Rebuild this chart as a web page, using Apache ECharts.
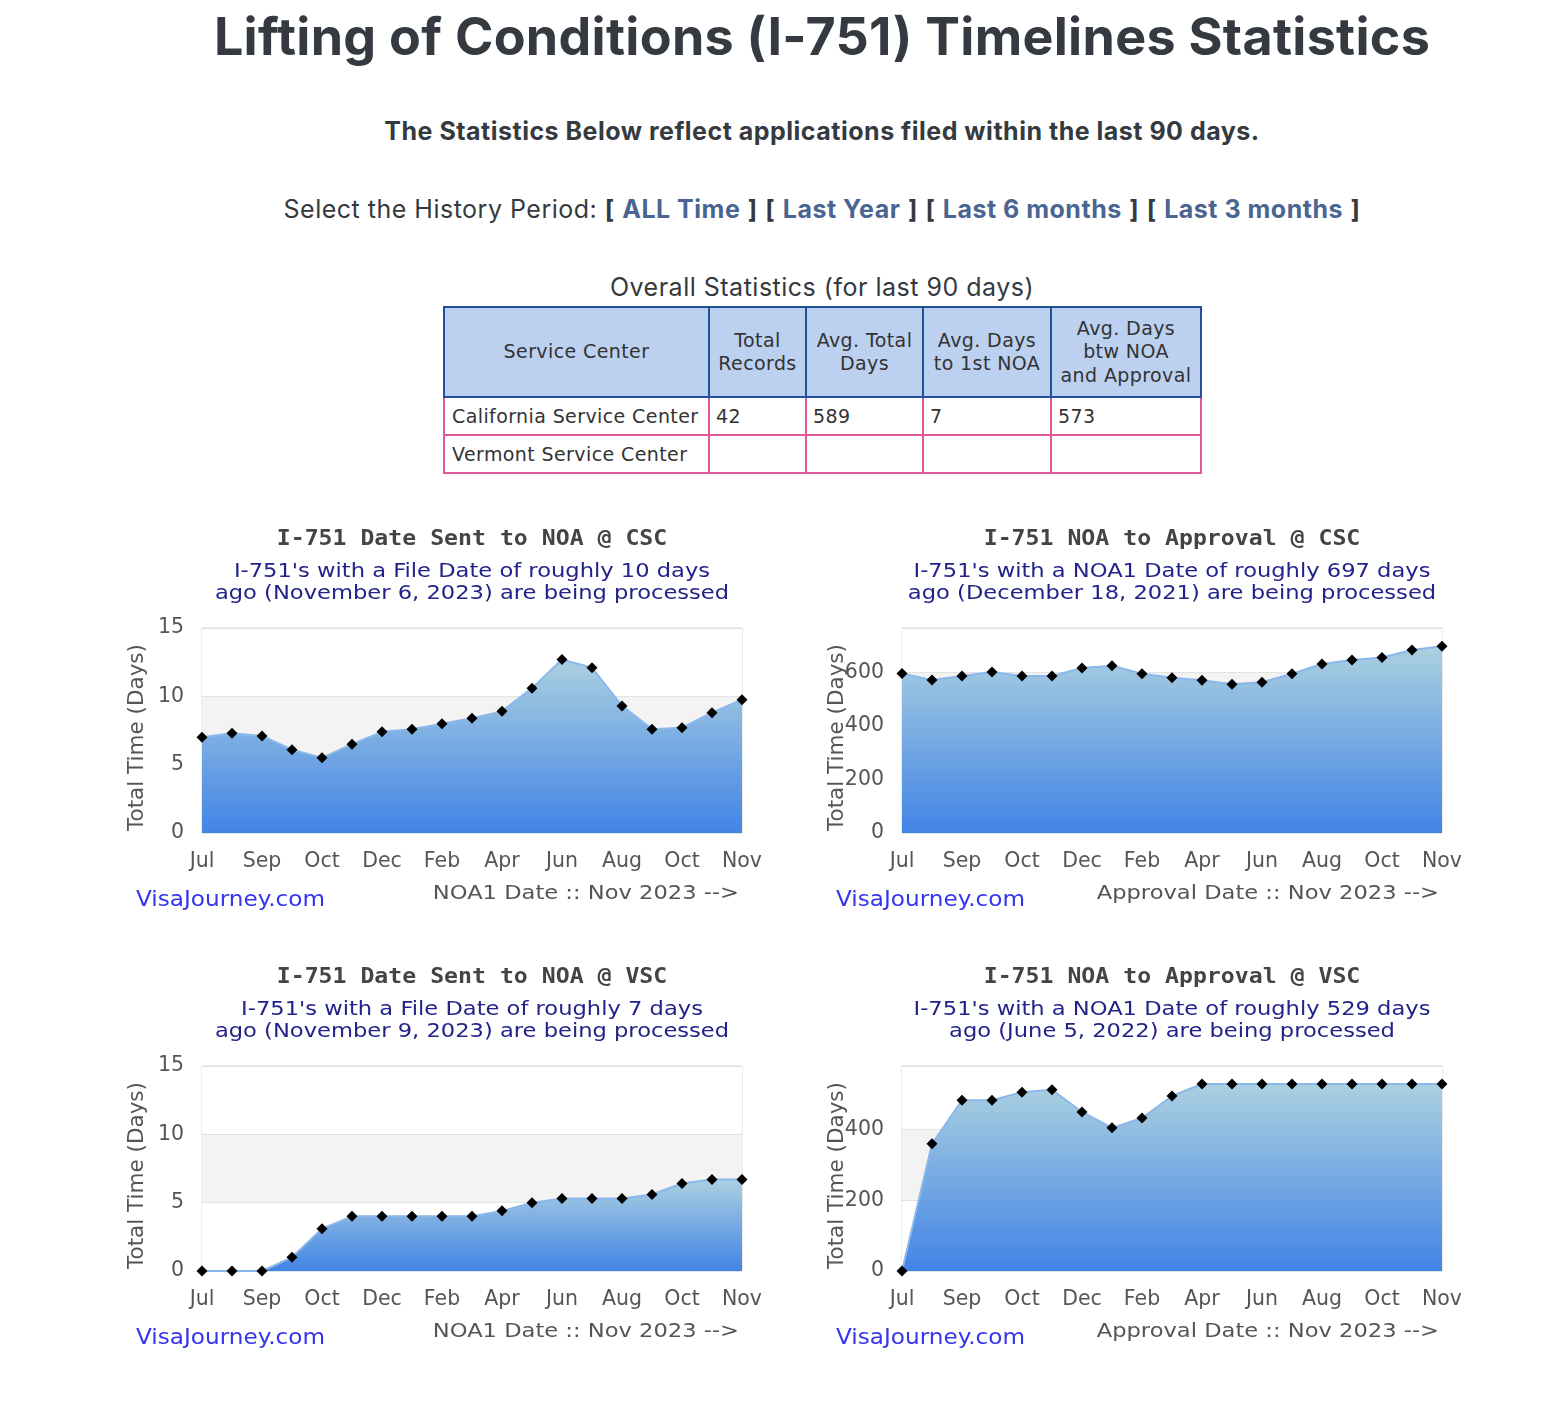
<!DOCTYPE html>
<html>
<head>
<meta charset="utf-8">
<title>Lifting of Conditions (I-751) Timelines Statistics</title>
<script src="https://cdn.jsdelivr.net/npm/echarts@6/dist/echarts.min.js"></script>
<style>
  html, body { margin:0; padding:0; background:#fff; overflow:hidden; }
  body { width:1566px; height:1416px; position:relative; font-family: Inter, "Noto Sans", sans-serif; color:#343a40; }
  .c { position:absolute; left:122px; width:1400px; text-align:center; white-space:nowrap; }
  #pageTitle { top:7px; font-size:52px; line-height:60px; font-weight:700; letter-spacing:0.3px; }
  #sub { top:116px; font-size:25px; line-height:30px; font-weight:700; letter-spacing:0.5px; }
  #period { top:194px; font-size:25px; line-height:30px; letter-spacing:0.5px; }
  #period b { font-weight:700; }
  #period a { color:#4a6592; font-weight:700; text-decoration:none; }
  #caption { top:272px; font-size:25px; line-height:30px; letter-spacing:0.5px; }
  table { position:absolute; left:443px; top:306px; width:757px; table-layout:fixed; border-collapse:collapse; font-family:"DejaVu Sans", Verdana, sans-serif; font-size:19px; letter-spacing:0.4px; color:#333; }
  th { background:#bcd0f0; border:2px solid #24509a; font-weight:normal; text-align:center; line-height:23.5px; padding:0; height:88px; white-space:nowrap; }
  td { border:2px solid #e2589a; text-align:left; padding:0 6px; height:36px; line-height:23px; white-space:nowrap; }
  .chart { position:absolute; width:700px; height:430px; }
</style>
</head>
<body>
<div class="c" id="pageTitle">Lifting of Conditions (I-751) Timelines Statistics</div>
<div class="c" id="sub">The Statistics Below reflect applications filed within the last 90 days.</div>
<div class="c" id="period">Select the History Period: <b>[</b> <a href="#">ALL Time</a> <b>]</b> <b>[</b> <a href="#">Last Year</a> <b>]</b> <b>[</b> <a href="#">Last 6 months</a> <b>]</b> <b>[</b> <a href="#">Last 3 months</a> <b>]</b></div>
<div class="c" id="caption">Overall Statistics (for last 90 days)</div>
<table>
  <colgroup>
    <col style="width:265px"><col style="width:97px"><col style="width:117px"><col style="width:128px"><col style="width:150px">
  </colgroup>
  <tr>
    <th>Service Center</th>
    <th>Total<br>Records</th>
    <th>Avg. Total<br>Days</th>
    <th>Avg. Days<br>to 1st NOA</th>
    <th>Avg. Days<br>btw NOA<br>and Approval</th>
  </tr>
  <tr><td style="padding-left:7px">California Service Center</td><td>42</td><td>589</td><td>7</td><td>573</td></tr>
  <tr><td style="padding-left:7px">Vermont Service Center</td><td></td><td></td><td></td><td></td></tr>
</table>

<div class="chart" id="c1" style="left:122px; top:520px;"></div>
<div class="chart" id="c2" style="left:822px; top:520px;"></div>
<div class="chart" id="c3" style="left:122px; top:958px;"></div>
<div class="chart" id="c4" style="left:822px; top:958px;"></div>

<script>
// ---- data ----
var xLabels = ['Jul','','Sep','','Oct','','Dec','','Feb','','Apr','','Jun','','Aug','','Oct','','Nov'];
var cscSentToNoa = [7.0, 7.3, 7.1, 6.1, 5.5, 6.5, 7.4, 7.6, 8.0, 8.4, 8.9, 10.6, 12.7, 12.1, 9.3, 7.6, 7.7, 8.8, 9.75];
var cscNoaToApproval = [595, 571, 586, 601, 586, 586, 616, 624, 594, 579, 570, 555, 563, 594, 631, 646, 655, 683, 697];
var vscSentToNoa = [0, 0, 0, 1.0, 3.1, 4, 4, 4, 4, 4, 4.4, 5.0, 5.3, 5.3, 5.3, 5.6, 6.4, 6.7, 6.7];
var vscNoaToApproval = [0, 360, 483, 483, 506, 513, 450, 405, 433, 495, 529, 529, 529, 529, 529, 529, 529, 529, 529];

var chartTitles = ['I-751 Date Sent to NOA @ CSC', 'I-751 NOA to Approval @ CSC', 'I-751 Date Sent to NOA @ VSC', 'I-751 NOA to Approval @ VSC'];
var chartSubtitles = [
  ["I-751's with a File Date of roughly 10 days", "ago (November 6, 2023) are being processed"],
  ["I-751's with a NOA1 Date of roughly 697 days", "ago (December 18, 2021) are being processed"],
  ["I-751's with a File Date of roughly 7 days", "ago (November 9, 2023) are being processed"],
  ["I-751's with a NOA1 Date of roughly 529 days", "ago (June 5, 2022) are being processed"]
];
var xAxisNames = ['NOA1 Date :: Nov 2023 -->', 'Approval Date :: Nov 2023 -->', 'NOA1 Date :: Nov 2023 -->', 'Approval Date :: Nov 2023 -->'];
var yMax = [15, 765, 15, 580];
var yInterval = [5, 200, 5, 200];
var seriesData = [cscSentToNoa, cscNoaToApproval, vscSentToNoa, vscNoaToApproval];
var bandColors = [['#ffffff','#f3f3f3'], ['#f3f3f3','#ffffff'], ['#ffffff','#f3f3f3'], ['#ffffff','#f3f3f3']];

var SX = 1.13; // horizontal stretch of the original chart text
function makeOption(i) {
  return {
    animation: false,
    graphic: [
      { type:'text', x:350, y:20, scaleX:SX, style:{ text: chartTitles[i], font:'bold 20.5px "DejaVu Sans Mono"', fill:'#444', align:'center', verticalAlign:'middle' } },
      { type:'text', x:350, y:52, scaleX:SX, style:{ text: chartSubtitles[i][0], font:'20px "DejaVu Sans"', fill:'#22228a', align:'center', verticalAlign:'middle' } },
      { type:'text', x:350, y:74, scaleX:SX, style:{ text: chartSubtitles[i][1], font:'20px "DejaVu Sans"', fill:'#22228a', align:'center', verticalAlign:'middle' } },
      { type:'text', x:14, y:381, scaleX:SX, style:{ text: 'VisaJourney.com', font:'20.5px "DejaVu Sans"', fill:'#3535ee', align:'left', verticalAlign:'middle' } },
      { type:'text', x:617, y:374, scaleX:SX, style:{ text: xAxisNames[i], font:'20px "DejaVu Sans"', fill:'#555', align:'right', verticalAlign:'middle' } }
    ],
    grid: { left:80, right:80, top:108, height:205, containLabel:false, outerBoundsMode:'none', show:true, borderColor:'#dcdcdc', borderWidth:1, backgroundColor:'#fff' },
    xAxis: {
      type:'category', data: xLabels, boundaryGap:false,
      axisLine:{ show:false }, axisTick:{ show:false }, splitLine:{ show:false },
      axisLabel:{ interval:0, margin:18, fontSize:20.5, color:'#555', fontFamily:'DejaVu Sans' }
    },
    yAxis: {
      type:'value', min:0, max:yMax[i], interval:yInterval[i],
      name:'Total Time (Days)', nameLocation:'middle', nameGap:54, nameMoveOverlap:false,
      nameTextStyle:{ fontSize:21.5, color:'#555', fontFamily:'DejaVu Sans', padding:[0, 14, 0, 0] },
      axisLine:{ show:false }, axisTick:{ show:false },
      axisLabel:{ margin:18, fontSize:20.5, color:'#555', fontFamily:'DejaVu Sans', showMaxLabel: (yMax[i] % yInterval[i] === 0) },
      splitLine:{ show:true, lineStyle:{ color:'#e2e2e2', width:1 } },
      splitArea:{ show:true, areaStyle:{ color: bandColors[i] } }
    },
    series: [{
      type:'line', data: seriesData[i], clip:false,
      symbol:'diamond', symbolSize:11, showAllSymbol:true,
      itemStyle:{ color:'#000' },
      lineStyle:{ color:'#8ab8ec', width:2 },
      areaStyle:{ opacity:1, color: new echarts.graphic.LinearGradient(0,0,0,1,[{offset:0,color:'#abd0e0'},{offset:1,color:'#4284e6'}]) }
    }]
  };
}

['c1','c2','c3','c4'].forEach(function(id, i){
  var ch = echarts.init(document.getElementById(id), null, { renderer:'canvas' });
  ch.setOption(makeOption(i));
});
</script>
</body>
</html>
